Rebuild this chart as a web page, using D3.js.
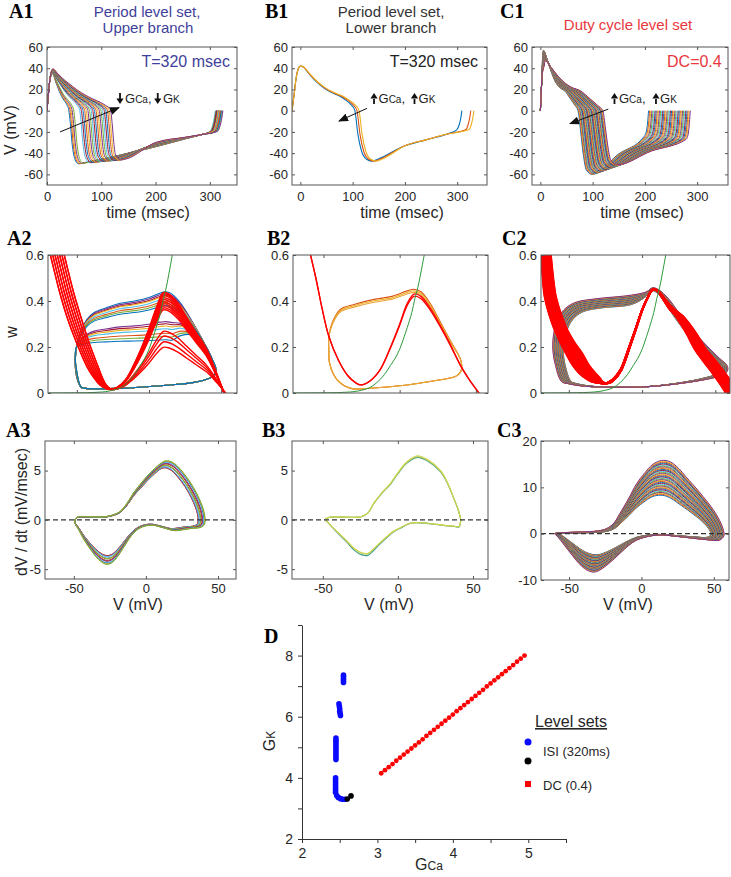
<!DOCTYPE html>
<html><head><meta charset="utf-8">
<script src="https://cdn.jsdelivr.net/npm/d3@7"></script>
<style>body{margin:0;background:#fff;}svg{display:block;}</style>
</head><body>
<svg id="fig" width="731" height="877"></svg>
<script>
// ================= DATA =================
const palette = ['#0072BD','#D95319','#EDB120','#7E2F8E','#77AC30','#4DBEEE','#A2142F'];

// ---- A1: period level set, upper branch (time of fall through 0 mV, end of period, peak, trough)
const A1_fall = [40,42,44,46,49,60,63,66,69,72,75,78,81,84,87,90,93,96,99,102,105,108,111,114,117];
const A1_end  = [316,312,318,314,320,310,317,313,321,315,319,311,322,316,313,320,318,314,323,317,312,321,319,315,324];
const A1_peak = [35.5,36,35.8,36.2,36.5,37,37.2,37,37.5,37.6,37.8,38,38,38.2,38.3,38.5,38.6,38.7,38.8,39,39,39.1,39.2,39.3,39.4];
const A1_vmin = [-50,-50,-49.8,-49.6,-49.5,-49,-49,-48.8,-48.6,-48.5,-48.3,-48.2,-48,-47.8,-47.7,-47.6,-47.5,-47.4,-47.3,-47.2,-47,-46.9,-46.8,-46.6,-46.5];
const A1_plateauT = [12,20,30,40,55,70,85,98,108,117];
const A1_plateauV = [39,35,30,26,20,15,11,8,5,1];

// ---- B1: period level set, lower branch
const B1_fall = [104,108,112];
const B1_end  = [309,326,332];
const B1_colors = ['#0072BD','#D95319','#EDB120'];
const B1_plateauT = [0,6.5,15,30,45,60,77,90,100,108];
const B1_plateauV = [42,41,36,28,22,17.5,14,10,6,0.5];

// ---- C1: duty-cycle level set
const C1_fall = [72,73.2,74.5,75.7,77,78.2,79.5,80.7,82,83.2,84.5,85.7,87,88.2,89.5,90.7,92,93.2,94.5,95.7,97,98.2,99.5,100.7,102,103.2,104.5,105.7,107,108.2,109.5,110.7,112,113.2,114.5,115.7,117,118.2,119.5];
const C1_end  = [207,209.1,211.2,213.3,215.4,217.5,219.6,221.7,223.8,225.9,228,230.1,232.2,234.3,236.4,238.5,240.6,242.7,244.8,246.9,249,251.1,253.2,255.3,257.4,259.5,261.6,263.7,265.8,267.9,270,272.1,274.2,276.3,278.4,280.5,282.6,284.7,286.8];
const C1_plateauT = [9,20,35,45,60,77,96,110,120];
const C1_plateauV = [47,41,32,27,22,18.7,11,5,0];

// ---- w-nullcline (green)
const G_V = [-72,-50,-40,-30,-25,-20,-15,-10,-6,-3,0,3,5,8,10,12,15,17,19];
const G_W = [0,0.0008,0.002,0.006,0.012,0.022,0.045,0.08,0.12,0.15,0.19,0.245,0.285,0.35,0.41,0.46,0.56,0.63,0.7];

// ---- A2: V-nullclines (red) and orbits
const A2_null_V = [-69.5,-66,-62,-57,-50,-43,-38,-34,-30,-27,-22,-16,-10,-5,0,5,10,14,20,26,33,40,46,52,55];
const A2_null_W = [0.63,0.54,0.44,0.334,0.215,0.115,0.065,0.035,0.02,0.015,0.025,0.06,0.13,0.2,0.28,0.37,0.437,0.43,0.39,0.33,0.26,0.19,0.1,0,-0.05];
const A2_null_left = [1,1,1,1,0.9,0.8,0.6,0.45,0.3,0.2,0.1,0,0,0,0,0,0,0,0,0,0,0,0,0,0];
const A2_nullHump  = [1,0.985,0.965,0.945,0.925,0.9,0.88,0.86,0.84,0.82,0.6,0.55,0.49,0.435];
const A2_nullShift = [0,0,1.6,1.6,3.2,3.2,4.8,4.8,6.4,6.4,8,8,9.6,9.6];
const A2_orb_V = [-47,-50.5,-51,-50,-47,-43,-38,-30,-20,-10,0,8,12,16,22,30,38,44,46.5,45,40,30,15,0,-20,-35,-44];
const A2_orb_W = [0.025,0.08,0.15,0.21,0.27,0.32,0.35,0.37,0.39,0.40,0.415,0.435,0.44,0.43,0.39,0.31,0.22,0.14,0.1,0.075,0.06,0.045,0.035,0.028,0.02,0.018,0.02];
const A2_orb_wt = [0,0.3,0.7,1,1,1,1,1,1,1,1,1,1,1,0.85,0.6,0.3,0.1,0,0,0,0,0,0,0,0,0];
const A2_orbScale = [1,0.97,0.94,0.92,0.875,0.83,0.79,0.75,0.46,0.42,0.38,0.33,0.25,0.19,0.13];

// ---- B2
const B2_null_V = [-58.5,-55,-51,-46.5,-40,-34,-29,-25.7,-20,-13,-6,0,5,9.4,14,20,27,33,40,46,52,55];
const B2_null_W = [0.6,0.5,0.37,0.247,0.14,0.075,0.045,0.035,0.05,0.1,0.2,0.3,0.39,0.43,0.42,0.37,0.29,0.215,0.12,0.055,0,-0.03];
const B2_nullHump = [1,0.975];
const B2_orb_V = [-46.5,-46.5,-44,-38.8,-30,-16.9,-5,5,9.4,14,20,27,34,40,40.5,38.5,35.7,20,5,-17,-32,-41,-46];
const B2_orb_W = [0.19,0.247,0.31,0.364,0.385,0.407,0.42,0.444,0.451,0.44,0.39,0.305,0.22,0.145,0.1,0.08,0.07,0.05,0.035,0.022,0.02,0.057,0.13];
const B2_orbScale = [1,0.985,0.97];
const B2_colors = ['#D95319','#EDB120','#E8A33A'];

// ---- C2 (family indexed by the DC level-set points of panel D)
const C2_null_V = [-69.4,-68,-66.7,-63.5,-60,-56,-52,-47.5,-43,-38,-35,-31,-28,-24,-20,-15,-9,-4,0,4,7,10,14,18,23,30,36,42,48,53,57,62];
const C2_null_W = [0.62,0.5,0.42,0.34,0.276,0.22,0.17,0.12,0.085,0.06,0.05,0.044,0.042,0.045,0.06,0.1,0.2,0.29,0.364,0.42,0.45,0.445,0.41,0.37,0.334,0.26,0.188,0.135,0.085,0.04,0,-0.05];
const C2_null_spread = [7,7.5,8,8.5,9,10,11.5,11.5,11.5,10,8,6,4,2.5,1.5,1,0.8,0.6,0.5,0.5,0.5,0.8,1.5,3,5,7,8,9,9,9,9,9];
const C2_orb_V = [-55,-59.5,-61,-60,-57,-52,-45,-31,-8,3,7,11,18,25,35,45,53,58,58.5,56,48,30,5,-20,-40,-50];
const C2_orb_W = [0.05,0.13,0.2,0.27,0.33,0.37,0.395,0.41,0.425,0.44,0.457,0.45,0.41,0.35,0.27,0.2,0.15,0.12,0.1,0.08,0.065,0.045,0.028,0.025,0.03,0.04];
const C2_orb_wt = [0,0.3,0.6,1,1,1,1,1,1,0.5,0.3,0.3,0.5,0.5,0.35,0.2,0,0,0,0,0,0,0,0,0,0];

// ---- A3 / B3 / C3: dV/dt versus V
const A3_V = [-49.3,-47,-40,-30,-24,-18,-13,-8.8,-4,0.5,6,12,15,20,28,33,37.5,40,41,41,40,37,33,28,20,12,5,0,-5,-10,-15,-20,-24,-28,-33,-38,-43,-47,-48.8];
const A3_D = [0,0.3,0.32,0.3,0.45,0.84,1.7,2.7,3.6,4.4,5.2,5.9,6.0,5.7,4.4,3.3,2.0,1.0,0.3,-0.3,-0.6,-0.8,-0.85,-0.95,-1.1,-0.8,-0.55,-0.6,-0.9,-1.6,-2.7,-3.8,-4.4,-4.5,-4.0,-3.1,-2.0,-0.9,-0.5];
const A3_f = [0,0.04,0.08,0.12,0.3,0.34,0.38,0.55,0.6,0.65,0.8,0.88,0.94,1.0];
const B3_V = [-48.3,-46,-38,-25,-20,-16,-11,-5,0,6,13,20,28.5,33,37,40,41.8,41.5,40.7,37,33,25,15,8,2,-3,-7,-12,-16,-20,-24,-29,-34,-40,-44,-47];
const B3_D = [0,0.25,0.3,0.3,0.7,1.7,2.7,3.7,4.8,5.9,6.5,6.1,5.0,3.8,2.3,1.1,0,-0.4,-0.7,-0.65,-0.6,-0.45,-0.3,-0.35,-0.8,-1.2,-1.7,-2.4,-3.0,-3.5,-3.45,-3.0,-2.2,-1.3,-0.7,-0.2];
const B3_up   = [0.975,0.985,1.0];
const B3_down = [1.03,0.98,0.97];
const B3_colors = ['#3C9A8A','#A9C94A','#D2D650'];
const C3_V = [-60,-55,-43,-30,-24,-19,-15,-9,-3.5,2,8,14,20,26,31,40,50,55,57,57,54,45,36,25,15,8,2,-3.5,-9,-15,-22,-29,-33,-38,-43,-47.5,-52,-56.7,-59];
const C3_D = [0,0.2,0.35,0.6,1.1,2.3,4.3,7.5,10.7,13,15,15.8,15.5,14,12.2,9,5,2.2,0.3,-0.5,-1.4,-1.3,-1.0,-0.6,-0.3,-0.4,-0.8,-1.4,-2.6,-4.3,-6.3,-7.9,-8.3,-7.8,-6.5,-4.8,-3.0,-1.1,-0.3];

// ---- D: level sets in (GCa, GK)
const D_isi_gca = [2.55,2.55,2.55,2.55,2.55, 2.51,2.505,2.5,2.5,2.495,2.49, 2.45,2.45,2.45,2.45,2.45,2.45,2.45,2.45,2.45,2.45,2.45, 2.445,2.445,2.445,2.445,2.445,2.445,2.445,2.445, 2.46,2.48,2.51,2.54,2.57];
const D_isi_gk  = [7.12,7.18,7.24,7.30,7.36, 6.04,6.11,6.18,6.26,6.34,6.42, 4.60,4.67,4.74,4.81,4.88,4.95,5.02,5.09,5.16,5.23,5.30, 3.52,3.59,3.66,3.73,3.80,3.87,3.94,4.00, 3.42,3.36,3.32,3.30,3.30];
const D_blk_gca = [2.60,2.65];
const D_blk_gk  = [3.31,3.41];
const D_dc_gca = [3.05,3.10,3.15,3.20,3.25,3.30,3.35,3.40,3.45,3.50,3.55,3.60,3.65,3.70,3.75,3.80,3.85,3.90,3.95,4.00,4.05,4.10,4.15,4.20,4.25,4.30,4.35,4.40,4.45,4.50,4.55,4.60,4.65,4.70,4.75,4.80,4.85,4.90,4.95];
const D_dc_gk  = [4.15,4.25,4.35,4.45,4.56,4.66,4.76,4.86,4.96,5.06,5.16,5.26,5.37,5.47,5.57,5.67,5.77,5.87,5.97,6.07,6.18,6.28,6.38,6.48,6.58,6.68,6.78,6.88,6.99,7.09,7.19,7.29,7.39,7.49,7.59,7.69,7.80,7.90,8.00];

// ================= DRAWING =================
const FONT = '"Liberation Sans", Arial, Helvetica, sans-serif';
const SERIF = '"Liberation Serif", "Times New Roman", serif';
const svg = d3.select('#fig');
const defs = svg.append('defs');
defs.append('marker').attr('id','ah').attr('viewBox','0 0 10 10').attr('refX',9).attr('refY',5)
  .attr('markerWidth',10).attr('markerHeight',8).attr('markerUnits','userSpaceOnUse')
  .attr('preserveAspectRatio','none').attr('orient','auto')
  .append('path').attr('d','M0,0L10,5L0,10z').attr('fill','#111');

const CFG = {
  A1:{x0:47,x1:237,y0:47,y1:185,xd:[0,350],yd:[-70,60],xt:[0,100,200,300],yt:[-60,-40,-20,0,20,40,60],xlab:true,xpad:7},
  B1:{x0:292,x1:487,y0:47,y1:185,xd:[-16,357],yd:[-70,60],xt:[0,100,200,300],yt:[-60,-40,-20,0,20,40,60],xlab:true,xpad:7},
  C1:{x0:532,x1:728,y0:47,y1:185,xd:[-16,359],yd:[-70,60],xt:[0,100,200,300],yt:[-60,-40,-20,0,20,40,60],xlab:true,xpad:7},
  A2:{x0:48,x1:237,y0:255,y1:393,xd:[-70,61],yd:[0,0.6],xt:[-50,0,50],yt:[0,0.2,0.4,0.6],xlab:false,xpad:6},
  B2:{x0:293,x1:488,y0:255,y1:393,xd:[-70,58],yd:[0,0.6],xt:[-50,0,50],yt:[0,0.2,0.4,0.6],xlab:false,xpad:6},
  C2:{x0:541,x1:730,y0:255,y1:393,xd:[-69,60],yd:[0,0.6],xt:[-50,0,50],yt:[0,0.2,0.4,0.6],xlab:false,xpad:6},
  A3:{x0:45,x1:236,y0:441,y1:579,xd:[-70,62.5],yd:[-6,8],xt:[-50,0,50],yt:[-5,0,5],xlab:true,xpad:5},
  B3:{x0:292,x1:488,y0:441,y1:579,xd:[-70.5,60],yd:[-6,8],xt:[-50,0,50],yt:[-5,0,5],xlab:true,xpad:5},
  C3:{x0:541,x1:729,y0:441,y1:580,xd:[-69.4,60.5],yd:[-10,20],xt:[-50,0,50],yt:[-10,0,10,20],xlab:true,xpad:4}
};

function mkPanel(id){
  const c = CFG[id];
  const x = d3.scaleLinear().domain(c.xd).range([c.x0,c.x1]);
  const y = d3.scaleLinear().domain(c.yd).range([c.y1,c.y0]);
  defs.append('clipPath').attr('id','cl'+id).append('rect')
    .attr('x',c.x0).attr('y',c.y0).attr('width',c.x1-c.x0).attr('height',c.y1-c.y0);
  const g = svg.append('g');
  const plot = g.append('g').attr('clip-path',`url(#cl${id})`);
  const ax = g.append('g');
  const p = {x,y,c,plot,ax};
  drawAxes(p);
  return p;
}
function drawAxes(p){
  const {x,y,c,ax} = p;
  const fmt = d => String(d), none = () => '';
  const st = s => { s.select('.domain').remove(); s.selectAll('line').attr('stroke','#555');
    s.selectAll('text').attr('fill','#262626').style('font-size','13px').style('font-family',FONT); };
  ax.append('g').attr('transform',`translate(0,${c.y1})`)
    .call(d3.axisBottom(x).tickValues(c.xt).tickSize(-3).tickPadding(c.xpad).tickFormat(c.xlab?fmt:none)).call(st);
  ax.append('g').attr('transform',`translate(0,${c.y0})`)
    .call(d3.axisTop(x).tickValues(c.xt).tickSize(-3).tickFormat(none)).call(st);
  ax.append('g').attr('transform',`translate(${c.x0},0)`)
    .call(d3.axisLeft(y).tickValues(c.yt).tickSize(-3).tickPadding(4).tickFormat(fmt)).call(st);
  ax.append('g').attr('transform',`translate(${c.x1},0)`)
    .call(d3.axisRight(y).tickValues(c.yt).tickSize(-3).tickFormat(none)).call(st);
  ax.append('rect').attr('x',c.x0).attr('y',c.y0).attr('width',c.x1-c.x0).attr('height',c.y1-c.y0)
    .attr('fill','none').attr('stroke','#555').attr('stroke-width',1);
}
const tLine = p => d3.line().x(d=>p.x(d[0])).y(d=>p.y(d[1])).curve(d3.curveMonotoneX);
const openLine = p => d3.line().x(d=>p.x(d[0])).y(d=>p.y(d[1])).curve(d3.curveCatmullRom.alpha(0.5));
const loopLine = p => d3.line().x(d=>p.x(d[0])).y(d=>p.y(d[1])).curve(d3.curveCatmullRomClosed.alpha(0.5));
const zip = (a,b) => a.map((v,i)=>[v,b[i]]);

function txt(x,y,s,o={}){
  const t = svg.append('text').attr('x',x).attr('y',y).text(s)
    .style('font-family',o.family||FONT).style('font-size',(o.size||16)+'px')
    .attr('fill',o.fill||'#262626').attr('text-anchor',o.anchor||'start');
  if(o.weight) t.style('font-weight',o.weight);
  if(o.rotate) t.attr('transform',`rotate(${o.rotate},${x},${y})`);
  return t;
}

// ---------- A1 ----------
const pA1 = mkPanel('A1');
function buildA1(i){
  const td=A1_fall[i], te=A1_end[i], vp=A1_peak[i], vm=A1_vmin[i];
  const tp=11, T0=A1_plateauT[0], T1=A1_plateauT[A1_plateauT.length-1];
  const pts=[[0,0],[2.5,15],[5,28],[8,vp-2.5],[tp,vp]];
  A1_plateauT.forEach((T,j)=>{ if(!j) return;
    const t=tp+(T-T0)*(td-tp)/(T1-T0);
    pts.push([t, A1_plateauV[j]+(vp-39)*Math.max(0,1-(t-tp)/30)]); });
  pts.push([td+3,-12],[td+6,-30],[td+9,-41],[td+13,vm+2.5],[td+18,vm],[td+30,vm+1.2]);
  const k=(td-40)/77;
  pts.push([200,-34+4*k],[255,-26.5+1.5*k],[285,-22.5]);
  pts.push([te-10,-19.5],[te-5,-14],[te-2,-7],[te,0]);
  return pts;
}
A1_fall.forEach((_,i)=>pA1.plot.append('path').attr('d',tLine(pA1)(buildA1(i)))
  .attr('fill','none').attr('stroke',palette[i%7]).attr('stroke-width',1));

// ---------- B1 ----------
const pB1 = mkPanel('B1');
function buildB1(i){
  const td=B1_fall[i], te=B1_end[i], T1=B1_plateauT[B1_plateauT.length-1];
  const pts=[[-16,0],[-12,15],[-8,31],[-4,39.5]];
  B1_plateauT.forEach((T,j)=>pts.push([T*td/T1, B1_plateauV[j]]));
  pts.push([td+6,-22],[td+13,-38],[td+22,-45.5],[td+33,-47.5],[td+45,-45.5]);
  pts.push([200,-33],[240,-27.5],[281,-22]);
  pts.push([te-10,-18],[te-5,-13],[te-2,-6.5],[te,0]);
  return pts;
}
B1_fall.forEach((_,i)=>pB1.plot.append('path').attr('d',tLine(pB1)(buildB1(i)))
  .attr('fill','none').attr('stroke',B1_colors[i]).attr('stroke-width',1.1));

// ---------- C1 ----------
const pC1 = mkPanel('C1');
const c1Frac = d3.scaleLinear().domain([C1_fall[0],C1_fall[C1_fall.length-1]]).range([0,1]);
function buildC1(i){
  const td=C1_fall[i], te=C1_end[i], fr=c1Frac(td);
  const vp=57-10*fr, vm=-60+9*fr, tp=6+3*fr;
  const pts=[[0,0],[1.5,15],[3,32],[tp-1.5,vp-4],[tp,vp]];
  C1_plateauT.forEach((T,j)=>{ if(!j) return;
    const t=tp+(T-C1_plateauT[0])*(td-tp)/(120-C1_plateauT[0]);
    pts.push([t, C1_plateauV[j]+(vp-47)*Math.max(0,1-(t-tp)/25)]); });
  pts.push([td+5,0.32*vm],[td+10,0.68*vm],[td+16,0.93*vm],[td+27,vm]);
  const vEnd=-24-3*fr, tm=(td+27+te-8)/2;
  pts.push([tm,(vm+vEnd)/2+1],[te-8,vEnd],[te-4,vEnd+5],[te-1.5,vEnd*0.4],[te,0]);
  return pts;
}
C1_fall.forEach((_,i)=>pC1.plot.append('path').attr('d',tLine(pC1)(buildC1(i)))
  .attr('fill','none').attr('stroke',palette[i%7]).attr('stroke-width',1));

// ---------- A2 ----------
const pA2 = mkPanel('A2');
A2_orbScale.forEach((s,i)=>{
  const pts=A2_orb_V.map((v,j)=>[v, A2_orb_W[j]+A2_orb_wt[j]*(1-s)*(0.2-A2_orb_W[j])]);
  pA2.plot.append('path').attr('d',loopLine(pA2)(pts)).attr('fill','none')
    .attr('stroke',palette[(i*3)%7]).attr('stroke-width',1.1);
});
A2_nullHump.forEach((s,i)=>{
  const pts=A2_null_V.map((v,j)=>{ const w=A2_null_W[j];
    return [v+A2_nullShift[i]*A2_null_left[j], v>-27 ? 0.015+(w-0.015)*s : w]; });
  pA2.plot.append('path').attr('d',openLine(pA2)(pts)).attr('fill','none')
    .attr('stroke','#ff0000').attr('stroke-width',1.4);
});
pA2.plot.append('path').attr('d',openLine(pA2)(zip(G_V,G_W))).attr('fill','none').attr('stroke','#2e9a3a').attr('stroke-width',1);

// ---------- B2 ----------
const pB2 = mkPanel('B2');
B2_orbScale.forEach((s,i)=>{
  const pts=B2_orb_V.map((v,j)=>[v, B2_orb_W[j]>0.2 ? B2_orb_W[j]*s : B2_orb_W[j]]);
  pB2.plot.append('path').attr('d',loopLine(pB2)(pts)).attr('fill','none')
    .attr('stroke',B2_colors[i]).attr('stroke-width',1.1);
});
B2_nullHump.forEach(s=>{
  const pts=B2_null_V.map((v,j)=>[v, v>-26 ? 0.035+(B2_null_W[j]-0.035)*s : B2_null_W[j]]);
  pB2.plot.append('path').attr('d',openLine(pB2)(pts)).attr('fill','none')
    .attr('stroke','#ff0000').attr('stroke-width',1.3);
});
pB2.plot.append('path').attr('d',openLine(pB2)(zip(G_V,G_W))).attr('fill','none').attr('stroke','#2e9a3a').attr('stroke-width',1);

// ---------- C2 ----------
const pC2 = mkPanel('C2');
const dcFrac = d3.scaleLinear().domain([D_dc_gca[0],D_dc_gca[D_dc_gca.length-1]]).range([0,1]);
D_dc_gca.forEach((g,i)=>{
  const f=dcFrac(g), k=0.88+0.12*f;
  const pts=C2_orb_V.map((v,j)=>[v*k, C2_orb_W[j]-C2_orb_wt[j]*(1-f)*0.04]);
  pC2.plot.append('path').attr('d',loopLine(pC2)(pts)).attr('fill','none')
    .attr('stroke',palette[i%7]).attr('stroke-width',1);
});
D_dc_gca.forEach(g=>{
  const f=dcFrac(g);
  const pts=C2_null_V.map((v,j)=>[v+C2_null_spread[j]*f, C2_null_W[j]]);
  pC2.plot.append('path').attr('d',openLine(pC2)(pts)).attr('fill','none')
    .attr('stroke','#ff0000').attr('stroke-width',1.6);
});
pC2.plot.append('path').attr('d',openLine(pC2)(zip(G_V,G_W))).attr('fill','none').attr('stroke','#2e9a3a').attr('stroke-width',1);

// ---------- A3 ----------
const pA3 = mkPanel('A3');
A3_f.forEach((f,i)=>{
  const su=0.88+0.12*f, sd=0.8+0.2*f, sv=0.88+0.12*f;
  const pts=A3_V.map((v,j)=>[v>0?v*sv:v, A3_D[j]>0?A3_D[j]*su:A3_D[j]*sd]);
  pA3.plot.append('path').attr('d',loopLine(pA3)(pts)).attr('fill','none')
    .attr('stroke',palette[(i*2+6)%7]).attr('stroke-width',1);
});
// ---------- B3 ----------
const pB3 = mkPanel('B3');
B3_up.forEach((su,i)=>{
  const sd=B3_down[i];
  const pts=B3_V.map((v,j)=>[v, B3_D[j]>0?B3_D[j]*su:B3_D[j]*sd]);
  pB3.plot.append('path').attr('d',loopLine(pB3)(pts)).attr('fill','none')
    .attr('stroke',B3_colors[i]).attr('stroke-width',1.1);
});
// ---------- C3 ----------
const pC3 = mkPanel('C3');
D_dc_gca.forEach((g,i)=>{
  const f=dcFrac(g), su=0.525+0.475*f, sd=0.55+0.45*f, svp=0.84+0.16*f, svn=0.95+0.05*f;
  const pts=C3_V.map((v,j)=>[v>0?v*svp:v*svn, C3_D[j]>0?C3_D[j]*su:C3_D[j]*sd]);
  pC3.plot.append('path').attr('d',loopLine(pC3)(pts)).attr('fill','none')
    .attr('stroke',palette[i%7]).attr('stroke-width',1);
});
[pA3,pB3,pC3].forEach(p=>p.plot.append('line')
  .attr('x1',p.c.x0).attr('x2',p.c.x1).attr('y1',p.y(0)).attr('y2',p.y(0))
  .attr('stroke','#333').attr('stroke-width',1.2).attr('stroke-dasharray','5,3'));

// ---------- annotations row 1 ----------
function smallArrow(x,yTop,up){
  const d = up
    ? `M${x-3.6},${yTop+5.5}L${x+3.6},${yTop+5.5}L${x},${yTop}Z M${x-0.9},${yTop+5}h1.8v6h-1.8Z`
    : `M${x-0.9},${yTop}h1.8v6h-1.8Z M${x-3.6},${yTop+5.5}L${x+3.6},${yTop+5.5}L${x},${yTop+11}Z`;
  svg.append('path').attr('d',d).attr('fill','#111');
}
function gLabel(x,y,sub){
  const t=svg.append('text').attr('x',x).attr('y',y).style('font-family',FONT).attr('fill','#222');
  t.append('tspan').text('G').style('font-size','13px');
  t.append('tspan').text(sub).style('font-size','10px');
  return t;
}
function annot(p,a){
  svg.append('line').attr('x1',p.x(a.from[0])).attr('y1',p.y(a.from[1]))
    .attr('x2',p.x(a.to[0])).attr('y2',p.y(a.to[1])).attr('stroke','#111').attr('stroke-width',1)
    .attr('marker-end','url(#ah)');
  const yTop=p.y(a.vTop), yb=p.y(a.vBase);
  smallArrow(p.x(a.g1[0]),yTop,a.up); gLabel(p.x(a.g1[1]),yb,'Ca').append('tspan').text(',').style('font-size','13px');
  smallArrow(p.x(a.g2[0]),yTop,a.up); gLabel(p.x(a.g2[1]),yb,'K');
}
annot(pA1,{from:[24,-20],to:[132.6,3],vTop:16.7,vBase:7.2,g1:[134.5,143.7],g2:[204,213.5],up:false});
annot(pB1,{from:[127.5,2.2],to:[73.9,-9.7],vTop:16.7,vBase:7.2,g1:[140.9,149.5],g2:[218.3,226],up:true});
annot(pC1,{from:[130,1.5],to:[56.7,-12.2],vTop:16.7,vBase:7.2,g1:[141.8,150.4],g2:[221.2,228.9],up:true});

txt(pA1.x(337),pA1.y(40.7),'T=320 msec',{fill:'#3f3f9c',anchor:'end'});
txt(pB1.x(340),pB1.y(40.7),'T=320 msec',{fill:'#222',anchor:'end'});
txt(pC1.x(347),pC1.y(40.7),'DC=0.4',{fill:'#e8383d',anchor:'end'});

// titles
txt(147,17,'Period level set,',{size:15,fill:'#3f3f9c',anchor:'middle'});
txt(148,33,'Upper branch',{size:15,fill:'#3f3f9c',anchor:'middle'});
txt(391,17,'Period level set,',{size:15,fill:'#333',anchor:'middle'});
txt(391,33,'Lower branch',{size:15,fill:'#333',anchor:'middle'});
txt(628,30,'Duty cycle level set',{size:15,fill:'#e8383d',anchor:'middle'});

// panel letters
[['A1',9,18],['B1',265,18],['C1',500,18],['A2',7,245],['B2',267,245],['C2',502,245],['A3',6,437],['B3',262,437],['C3',497,437],['D',264,643]]
  .forEach(([s,x,y])=>txt(x,y,s,{family:SERIF,size:20,weight:'bold',fill:'#000'}));

// axis labels
txt(148,218,'time (msec)',{anchor:'middle'});
txt(402,218,'time (msec)',{anchor:'middle'});
txt(642,218,'time (msec)',{anchor:'middle'});
txt(16,130,'V (mV)',{anchor:'middle',rotate:-90});
txt(17,332,'w',{anchor:'middle',rotate:-90});
txt(27,512,'dV / dt (mV/msec)',{anchor:'middle',rotate:-90});
txt(138,610,'V (mV)',{anchor:'middle'});
txt(389,610,'V (mV)',{anchor:'middle'});
txt(628,610,'V (mV)',{anchor:'middle'});

// ---------- D ----------
const xD = d3.scaleLinear().domain([2,5.5]).range([302,566]);
const yD = d3.scaleLinear().domain([2,9]).range([839,625]);
const gD = svg.append('g');
const stD = s=>{ s.select('.domain').attr('stroke','#333'); s.selectAll('line').attr('stroke','#333');
  s.selectAll('text').attr('fill','#262626').style('font-size','14px').style('font-family',FONT); };
gD.append('g').attr('transform','translate(0,839)')
  .call(d3.axisBottom(xD).tickValues([2,2.5,3,3.5,4,4.5,5,5.5]).tickSize(4).tickSizeOuter(0).tickPadding(5)
  .tickFormat(d=>Number.isInteger(d)?String(d):'')).call(stD);
gD.append('g').attr('transform','translate(302,0)')
  .call(d3.axisLeft(yD).tickValues([2,3,4,5,6,7,8,9]).tickSize(4).tickSizeOuter(0).tickPadding(5)
  .tickFormat(d=>d%2===0?String(d):'')).call(stD);
gD.selectAll('.dcp').data(D_dc_gca).join('circle').attr('cx',d=>xD(d)).attr('cy',(d,i)=>yD(D_dc_gk[i]))
  .attr('r',2.4).attr('fill','#ff0000');
gD.selectAll('.isi').data(D_isi_gca).join('circle').attr('cx',d=>xD(d)).attr('cy',(d,i)=>yD(D_isi_gk[i]))
  .attr('r',2.8).attr('fill','#0a0aff');
gD.selectAll('.blk').data(D_blk_gca).join('circle').attr('cx',d=>xD(d)).attr('cy',(d,i)=>yD(D_blk_gk[i]))
  .attr('r',2.8).attr('fill','#000');
{
  const t=svg.append('text').attr('x',275).attr('y',741).attr('text-anchor','middle')
    .attr('transform','rotate(-90,275,741)').style('font-family',FONT).attr('fill','#262626');
  t.append('tspan').text('G').style('font-size','16px'); t.append('tspan').text('K').style('font-size','12px');
  const u=svg.append('text').attr('x',429).attr('y',870).attr('text-anchor','middle').style('font-family',FONT).attr('fill','#262626');
  u.append('tspan').text('G').style('font-size','16px'); u.append('tspan').text('Ca').style('font-size','12px');
}
// legend
txt(535,727,'Level sets',{size:16}).style('text-decoration','underline');
svg.append('circle').attr('cx',528).attr('cy',742).attr('r',3.5).attr('fill','#0a0aff');
svg.append('circle').attr('cx',528).attr('cy',761).attr('r',3.5).attr('fill','#000');
txt(543,756,'ISI (320ms)',{size:13});
svg.append('rect').attr('x',525).attr('y',781).attr('width',6).attr('height',6).attr('fill','#ff0000');
txt(543,790,'DC (0.4)',{size:13});
</script>
</body></html>
